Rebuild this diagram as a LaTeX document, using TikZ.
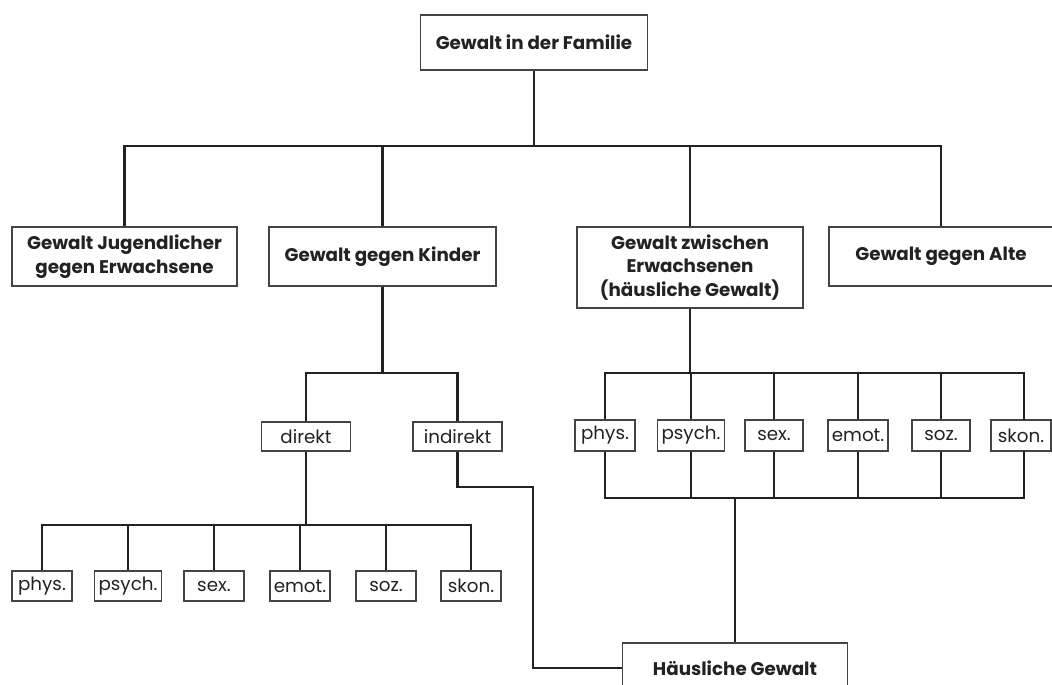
\documentclass[tikz,border=0pt]{standalone}
\usepackage{fontspec}
\setmainfont{Poppins}
\definecolor{ink}{HTML}{222222}
\definecolor{frame}{HTML}{444444}
\begin{document}
\begin{tikzpicture}[x=1pt,y=-1pt,
  bigbox/.style={draw=frame,line width=1.4pt,fill=white,inner sep=0pt,minimum height=59pt,
     text=ink,align=center,font=\fontsize{18.3}{23.5}\selectfont\bfseries},
  smallbox/.style={draw=frame,line width=1.2pt,fill=white,inner sep=0pt,minimum height=30pt,
     text=ink,font=\fontsize{18.3}{20}\selectfont},
  conn/.style={draw=ink,line width=2.6pt}]
\clip (0,0) rectangle (1052,685);
\fill[white] (0,0) rectangle (1052,685);
% bus coordinates
\coordinate (b1) at (534,146);
\coordinate (b2) at (382,373);
\coordinate (b3) at (306,525);
\coordinate (b4) at (690,373);
\coordinate (b5) at (735,498);
\coordinate (k1) at (533,487);
% nodes
\node[bigbox,minimum width=227pt,minimum height=55pt] (top) at (534,42.5) {Gewalt in der Familie};
\node[bigbox,minimum width=225pt] (jug) at (124.5,256.5) {Gewalt Jugendlicher\\gegen Erwachsene};
\node[bigbox,minimum width=227pt] (kind) at (382.5,256.5) {Gewalt gegen Kinder};
\node[bigbox,minimum width=226pt,minimum height=81pt] (zw) at (690,267.5) {Gewalt zwischen\\Erwachsenen\\(häusliche Gewalt)};
\node[bigbox,minimum width=224pt] (alte) at (941,256.5) {Gewalt gegen Alte};
\node[smallbox,minimum width=89pt,minimum height=29pt] (direkt) at (306,436.5) {direkt};
\node[smallbox,minimum width=89pt,minimum height=29pt] (indirekt) at (457.5,436.5) {indirekt};
% left small boxes
\node[smallbox,minimum width=60pt] (lphys) at (42,586) {phys.};
\node[smallbox,minimum width=67pt] (lpsych) at (128,586) {psych.};
\node[smallbox,minimum width=60pt] (lsex) at (214,586) {sex.};
\node[smallbox,minimum width=60pt] (lemot) at (300,586) {emot.};
\node[smallbox,minimum width=60pt] (lsoz) at (386,586) {soz.};
\node[smallbox,minimum width=60pt] (lskon) at (471,586) {skon.};
% right small boxes
\node[smallbox,minimum width=60pt,minimum height=31pt] (rphys) at (605,435.5) {phys.};
\node[smallbox,minimum width=67pt,minimum height=31pt] (rpsych) at (691,435.5) {psych.};
\node[smallbox,minimum width=58pt,minimum height=31pt] (rsex) at (774,435.5) {sex.};
\node[smallbox,minimum width=60pt,minimum height=31pt] (remot) at (858,435.5) {emot.};
\node[smallbox,minimum width=58pt,minimum height=31pt] (rsoz) at (941,435.5) {soz.};
\node[smallbox,minimum width=60pt,minimum height=31pt] (rskon) at (1021,435.5) {skon.};
\node[bigbox,minimum width=225pt,minimum height=50pt] (haus) at (735,668) {Häusliche Gewalt};
% connectors
\draw[conn] (top.south) -- (top.south |- b1);
\draw[conn] (jug.north) |- (b1) -| (alte.north);
\draw[conn] (kind.north) -- (kind.north |- b1);
\draw[conn] (zw.north) -- (zw.north |- b1);
\draw[conn] (kind.south) -- (kind.south |- b2);
\draw[conn] (direkt.north) |- (b2) -| (indirekt.north);
\draw[conn] (direkt.south) -- (direkt.south |- b3);
\draw[conn] (lphys.north) |- (b3) -| (lskon.north);
\foreach \n in {lpsych,lsex,lemot,lsoz} \draw[conn] (\n.north) -- (\n.north |- b3);
\draw[conn] (zw.south) -- (zw.south |- b4);
\draw[conn] (rphys.north) |- (b4) -| (1024,420);
\foreach \n in {rpsych,rsex,remot,rsoz} \draw[conn] (\n.north) -- (\n.north |- b4);
\draw[conn] (rphys.south) |- (b5) -| (1024,451);
\foreach \n in {rpsych,rsex,remot,rsoz} \draw[conn] (\n.south) -- (\n.south |- b5);
\draw[conn] (b5) -- (haus.north);
\draw[conn] (indirekt.south) |- (k1) |- (haus.west);
\end{tikzpicture}
\end{document}
